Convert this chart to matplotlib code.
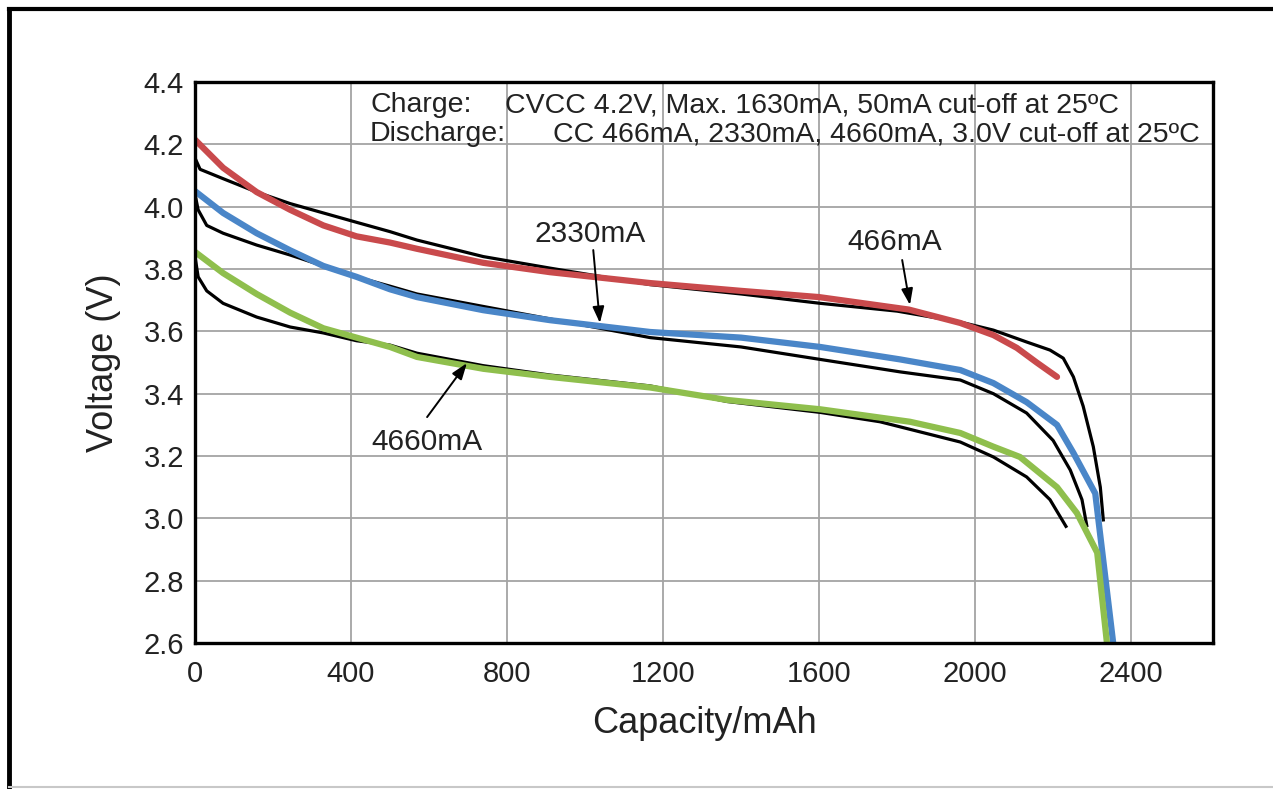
import matplotlib
matplotlib.use('Agg')
import matplotlib.pyplot as plt
from matplotlib.lines import Line2D

plt.rcParams['font.family'] = ['Liberation Sans', 'DejaVu Sans']

# discharge curves, capacity in mAh vs voltage in V
# colored = measured cell, black = reference cell
cap_466 = [0, 72, 158, 244, 329, 414, 500, 569, 739, 910, 1167, 1400, 1600, 1830, 1962,
           2047, 2107, 2158, 2210]
v_466 = [4.215, 4.125, 4.047, 3.99, 3.94, 3.905, 3.885, 3.865, 3.82, 3.79, 3.755, 3.73, 3.71,
         3.67, 3.627, 3.588, 3.547, 3.50, 3.454]

ref_cap_466 = [0, 13, 72, 158, 244, 329, 414, 500, 569, 739, 910, 1167, 1400, 1603, 1800, 1962,
               2047, 2132, 2192, 2226, 2252, 2277, 2303, 2321, 2329]
ref_v_466 = [4.156, 4.12, 4.09, 4.047, 4.01, 3.98, 3.95, 3.92, 3.893, 3.84, 3.803, 3.75, 3.72,
             3.69, 3.665, 3.63, 3.604, 3.566, 3.54, 3.514, 3.454, 3.36, 3.23, 3.10, 2.99]

cap_2330 = [0, 72, 158, 244, 329, 414, 500, 569, 739, 910, 1167, 1400, 1603, 1808, 1962, 2047,
            2132, 2210, 2252, 2308, 2354]
v_2330 = [4.05, 3.98, 3.915, 3.86, 3.81, 3.775, 3.735, 3.71, 3.668, 3.636, 3.598, 3.58, 3.55,
          3.51, 3.476, 3.434, 3.373, 3.30, 3.21, 3.08, 2.60]

ref_cap_2330 = [0, 8, 30, 72, 158, 244, 329, 414, 500, 569, 739, 910, 1167, 1400, 1603, 1808,
                1962, 2047, 2132, 2200, 2244, 2274, 2287]
ref_v_2330 = [4.04, 3.99, 3.94, 3.915, 3.877, 3.845, 3.81, 3.775, 3.745, 3.72, 3.68, 3.64, 3.58,
              3.55, 3.51, 3.47, 3.444, 3.40, 3.338, 3.25, 3.155, 3.06, 2.972]

cap_4660 = [0, 72, 158, 244, 329, 414, 500, 569, 739, 910, 1167, 1364, 1603, 1833, 1962, 2047,
            2115, 2210, 2261, 2313, 2338]
v_4660 = [3.855, 3.787, 3.72, 3.66, 3.61, 3.58, 3.55, 3.518, 3.48, 3.454, 3.42, 3.38, 3.35, 3.31,
          3.274, 3.23, 3.197, 3.10, 3.017, 2.89, 2.60]

ref_cap_4660 = [0, 8, 30, 72, 158, 244, 329, 414, 500, 569, 739, 910, 1167, 1364, 1603, 1756,
                1962, 2047, 2132, 2192, 2235]
ref_v_4660 = [3.84, 3.775, 3.73, 3.69, 3.646, 3.614, 3.595, 3.57, 3.556, 3.53, 3.49, 3.46, 3.425,
              3.375, 3.34, 3.31, 3.245, 3.197, 3.133, 3.06, 2.97]

x_ticks = [0, 400, 800, 1200, 1600, 2000, 2400]
y_ticks = [2.6, 2.8, 3.0, 3.2, 3.4, 3.6, 3.8, 4.0, 4.2, 4.4]

red = '#c94a4c'
blue = '#4a86c8'
green = '#8fbf4d'
txt = '#222222'

fig = plt.figure(figsize=(12.73, 7.89), dpi=100)
ax = fig.add_axes([0.1532, 0.185, 0.7997, 0.711])

for cx, cv in [(ref_cap_466, ref_v_466), (ref_cap_2330, ref_v_2330), (ref_cap_4660, ref_v_4660)]:
    ax.plot(cx, cv, color='black', lw=2.3, solid_capstyle='butt', solid_joinstyle='round', zorder=3)
ax.plot(cap_466, v_466, color=red, lw=4.5, solid_capstyle='round', solid_joinstyle='round', zorder=4)
ax.plot(cap_2330, v_2330, color=blue, lw=4.5, solid_capstyle='butt', solid_joinstyle='round', zorder=4)
ax.plot(cap_4660, v_4660, color=green, lw=4.5, solid_capstyle='butt', solid_joinstyle='round', zorder=4)

ax.set_xlim(0, 2610)
ax.set_ylim(2.6, 4.4)
ax.set_xticks(x_ticks)
ax.set_yticks(y_ticks)
ax.set_yticklabels(['%.1f' % v for v in y_ticks])
ax.grid(True, color='#a4a4a4', lw=1.3, zorder=1)
ax.tick_params(length=0, labelsize=21, colors=txt)
ax.tick_params(axis='x', pad=12)
ax.tick_params(axis='y', pad=8)
for s in ax.spines.values():
    s.set_linewidth(2.4)
    s.set_zorder(5)

ax.set_xlabel('Capacity/mAh', fontsize=26, color=txt, labelpad=13)
ax.set_ylabel('Voltage (V)', fontsize=26, color=txt, labelpad=16)

# test conditions
tfs = 20.5
ax.text(0.172, 0.9465, 'Charge:', transform=ax.transAxes, fontsize=tfs, va='baseline', color=txt)
ax.text(0.3045, 0.9465, 'CVCC 4.2V, Max. 1630mA, 50mA cut-off at 25\u00baC',
        transform=ax.transAxes, fontsize=tfs, va='baseline', color=txt)
ax.text(0.172, 0.8948, 'Discharge:', transform=ax.transAxes, fontsize=tfs, va='baseline', color=txt)
ax.text(0.3512, 0.8948, 'CC 466mA, 2330mA, 4660mA, 3.0V cut-off at 25\u00baC',
        transform=ax.transAxes, fontsize=tfs, va='baseline', color=txt)

# curve labels with pointers
aprops = dict(arrowstyle='-|>,head_length=0.7,head_width=0.25', color='black', lw=1.4,
              mutation_scale=14, shrinkA=0, shrinkB=0)
lfs = 21.5
ax.annotate('', xy=(1038, 3.627), xytext=(1021, 3.861), arrowprops=aprops, zorder=6)
ax.text(1013, 3.887, '2330mA', fontsize=lfs, ha='center', va='baseline', color=txt)
ax.annotate('', xy=(1833, 3.685), xytext=(1813, 3.829), arrowprops=aprops, zorder=6)
ax.text(1795, 3.861, '466mA', fontsize=lfs, ha='center', va='baseline', color=txt)
ax.annotate('', xy=(697, 3.498), xytext=(595, 3.325), arrowprops=aprops, zorder=6)
ax.text(594, 3.219, '4660mA', fontsize=lfs, ha='center', va='baseline', color=txt)

# outer frame
fig.add_artist(Line2D([0.0071, 0.0071], [0.0, 0.9886], color='black', lw=3.5, transform=fig.transFigure))
fig.add_artist(Line2D([0.0071, 1.0], [0.9886, 0.9886], color='black', lw=3.0, transform=fig.transFigure))
fig.add_artist(Line2D([0.0071, 1.0], [0.0025, 0.0025], color='#c8c8c8', lw=1.5, transform=fig.transFigure))

fig.savefig('out.png', dpi=100)
plt.close()
